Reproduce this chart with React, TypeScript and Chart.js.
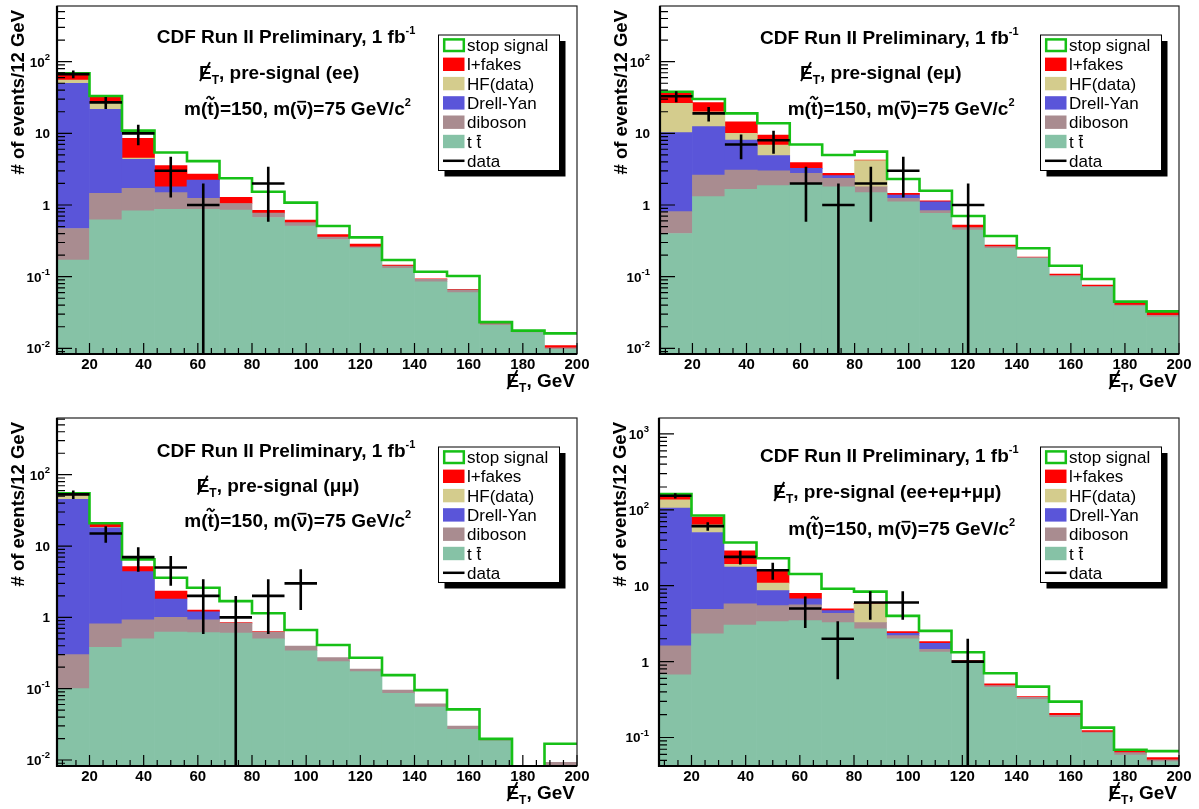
import React, { useEffect, useRef } from 'react';
import { Chart, registerables } from 'chart.js';

Chart.register(...registerables);

const FONT = '"Liberation Sans", Arial, Helvetica, sans-serif';

// Missing-ET histogram bins (GeV): 16 bins of 12 GeV from 8 to 200
const binEdges = [8, 20, 32, 44, 56, 68, 80, 92, 104, 116, 128, 140, 152, 164, 176, 188, 200];
const xTickLabels = [20, 40, 60, 80, 100, 120, 140, 160, 180, 200];
const legendLabels = ['stop signal', 'l+fakes', 'HF(data)', 'Drell-Yan', 'diboson', 't t', 'data'];

// ---------- ee ----------
const eeTtbar = [0.17, 0.62, 0.83, 0.87, 0.87, 0.85, 0.67, 0.51, 0.33, 0.25, 0.131, 0.085, 0.06, 0.021, 0.0166, 0.0097];
const eeDiboson = [0.3, 0.84, 0.88, 0.62, 0.37, 0.2, 0.1, 0.058, 0.028, 0.011, 0.01, 0.007, 0.0054, 0.0011, 0.0006, 0.0005];
const eeDrellYan = [49.4, 20.1, 2.63, 0.31, 0.99, 0, 0, 0, 0, 0, 0, 0, 0, 0, 0, 0];
const eeHF = [5.6, 4.6, 0.16, 0, 0, 0, 0, 0, 0, 0, 0, 0, 0, 0, 0, 0];
const eeFakes = [11.1, 5.6, 4.0, 1.74, 0.47, 0.23, 0.07, 0.05, 0.03, 0.023, 0.004, 0.001, 0.001, 0.0006, 0.0002, 0.0007];
const eeStopSignal = [68.8, 33.2, 10.9, 5.4, 4.1, 2.36, 1.53, 1.08, 0.51, 0.354, 0.171, 0.117, 0.102, 0.0232, 0.0177, 0.0162];
const eeData = [67, 27, 10, 3, 1, 0, 2, 0, 0, 0, 0, 0, 0, 0, 0, 0];

// ---------- e mu ----------
const emuTtbar = [0.4, 1.31, 1.65, 1.86, 2.0, 1.8, 1.49, 1.11, 0.765, 0.448, 0.249, 0.18, 0.1, 0.071, 0.039, 0.0276];
const emuDiboson = [0.41, 1.31, 1.43, 1.15, 0.77, 0.56, 0.31, 0.13, 0.069, 0.035, 0.013, 0.005, 0.004, 0.0025, 0.001, 0.0014];
const emuDrellYan = [9.4, 9.8, 5.0, 1.87, 0.48, 0.21, 0, 0.14, 0.276, 0, 0, 0, 0, 0, 0, 0];
const emuHF = [16.0, 7.6, 1.92, 1.99, 0, 0, 2.36, 0, 0, 0, 0, 0, 0, 0, 0, 0];
const emuFakes = [10.8, 6.8, 4.5, 2.61, 0.65, 0.2, 0.08, 0.07, 0.03, 0.043, 0.015, 0.003, 0.005, 0.0029, 0.0034, 0.0035];
const emuStopSignal = [38.1, 30.2, 19.0, 13.8, 7.0, 4.98, 5.55, 2.31, 1.58, 0.702, 0.37, 0.249, 0.142, 0.093, 0.0448, 0.0328];
const emuData = [33, 19, 7, 8, 2, 1, 2, 3, 0, 1, 0, 0, 0, 0, 0, 0];

// ---------- mu mu ----------
const mumuTtbar = [0.1, 0.38, 0.5, 0.62, 0.61, 0.6, 0.5, 0.34, 0.239, 0.173, 0.086, 0.055, 0.027, 0.0185, 0, 0.0075];
const mumuDiboson = [0.2, 0.43, 0.42, 0.38, 0.31, 0.23, 0.12, 0.056, 0.033, 0.015, 0.0094, 0.0061, 0.0029, 0.0009, 0, 0.0018];
const mumuDrellYan = [45.0, 17.2, 3.46, 0.81, 0.28, 0, 0, 0, 0, 0, 0, 0, 0, 0, 0, 0];
const mumuHF = [5.7, 0.3, 0, 0, 0, 0, 0, 0, 0, 0, 0, 0, 0, 0, 0, 0];
const mumuFakes = [2.8, 2.1, 0.76, 0.53, 0.07, 0.016, 0.014, 0, 0, 0, 0, 0, 0, 0, 0, 0];
const mumuStopSignal = [55, 20.9, 6.5, 3.6, 2.6, 1.69, 1.14, 0.664, 0.409, 0.272, 0.155, 0.0953, 0.0513, 0.0198, 0, 0.0169];
const mumuData = [53, 15, 7, 5, 2, 1, 2, 3, 0, 0, 0, 0, 0, 0, 0, 0];

// ---------- ee + e mu + mu mu ----------
const allTtbar = [0.67, 2.32, 3.04, 3.37, 3.47, 3.27, 2.7, 1.99, 1.33, 0.95, 0.459, 0.318, 0.185, 0.114, 0.0588, 0.048];
const allDiboson = [0.94, 2.58, 2.72, 2.1, 2.11, 1.07, 0.57, 0.21, 0.12, 0.03, 0.024, 0.021, 0.011, 0.004, 0.0044, 0.0026];
const allDrellYan = [103.9, 45.3, 11.8, 3.16, 1.12, 0.36, 0, 0.16, 0.29, 0, 0, 0, 0, 0, 0, 0];
const allHF = [30.1, 13.3, 1.6, 2.17, 0, 0, 2.49, 0, 0, 0, 0, 0, 0, 0, 0, 0];
const allFakes = [18.9, 16.7, 9.6, 5.0, 1.26, 0.25, 0.12, 0.13, 0.09, 0.05, 0.025, 0.006, 0.012, 0.005, 0.0052, 0.0038];
const allStopSignal = [161, 84.2, 37.1, 23.0, 14.3, 9.1, 8.37, 4.0, 2.54, 1.33, 0.702, 0.468, 0.297, 0.135, 0.069, 0.0662];
const allData = [153, 61, 24, 16, 5, 2, 6, 6, 0, 1, 0, 0, 0, 0, 0, 0];

const COLORS = {
  tt: '#86c2a6',
  dib: '#a98c90',
  dy: '#5a55d9',
  hf: '#d4cc8d',
  fk: '#ff0000',
  sig: '#16c016',
  data: '#000000',
};

const PANELS: any[] = [
  {
    id: 'ee', channel: 'ee',
    pad: { x: 0, y: 0, w: 600, h: 405 },
    frame: { l: 57, t: 6, r: 577, b: 354 },
    yMin: 0.00834, yMax: 598, labelGap: 7,
    text: [[156.7, 42.8], [199, 78.5], [184, 115]],
    ttbar: eeTtbar, diboson: eeDiboson, drellYan: eeDrellYan, hf: eeHF, fakes: eeFakes, signal: eeStopSignal, data: eeData,
  },
  {
    id: 'emu', channel: 'e\u03bc',
    pad: { x: 600, y: 0, w: 599, h: 405 },
    frame: { l: 660, t: 6, r: 1179, b: 354 },
    yMin: 0.00834, yMax: 598, labelGap: 10,
    text: [[760, 43.5], [800, 78.5], [787.7, 115]],
    ttbar: emuTtbar, diboson: emuDiboson, drellYan: emuDrellYan, hf: emuHF, fakes: emuFakes, signal: emuStopSignal, data: emuData,
  },
  {
    id: 'mumu', channel: '\u03bc\u03bc',
    pad: { x: 0, y: 405, w: 600, h: 404 },
    frame: { l: 57, t: 418, r: 577, b: 766 },
    yMin: 0.00824, yMax: 624, labelGap: 7,
    text: [[156.7, 456.5], [196.7, 492], [184.3, 527]],
    ttbar: mumuTtbar, diboson: mumuDiboson, drellYan: mumuDrellYan, hf: mumuHF, fakes: mumuFakes, signal: mumuStopSignal, data: mumuData,
  },
  {
    id: 'all', channel: 'ee+e\u03bc+\u03bc\u03bc',
    pad: { x: 600, y: 405, w: 599, h: 404 },
    frame: { l: 659, t: 418, r: 1179, b: 766 },
    yMin: 0.0421, yMax: 1622, labelGap: 10,
    text: [[760, 461.5], [773.3, 498.3], [788.3, 535]],
    ttbar: allTtbar, diboson: allDiboson, drellYan: allDrellYan, hf: allHF, fakes: allFakes, signal: allStopSignal, data: allData,
  },
];

const TINY = 1e-6;

function buildDatasets(c: any) {
  const centers = binEdges.slice(0, -1).map((e, i) => (e + binEdges[i + 1]) / 2);
  const layers = [
    { label: 't t', vals: c.ttbar, color: COLORS.tt },
    { label: 'diboson', vals: c.diboson, color: COLORS.dib },
    { label: 'Drell-Yan', vals: c.drellYan, color: COLORS.dy },
    { label: 'HF(data)', vals: c.hf, color: COLORS.hf },
    { label: 'l+fakes', vals: c.fakes, color: COLORS.fk },
  ];
  const running = centers.map(() => 0);
  const ds: any[] = [];
  layers.forEach((L, li) => {
    const pts: any[] = [];
    L.vals.forEach((v: number, i: number) => {
      const lo = running[i];
      const hi = lo + v;
      running[i] = hi;
      if (v > 0) pts.push({ x: centers[i], y: [Math.max(lo, TINY), hi] });
    });
    ds.push({
      type: 'bar', label: L.label, data: pts, backgroundColor: L.color, borderWidth: 0,
      grouped: false, barPercentage: 1, categoryPercentage: 1, clip: 0, order: 10 + li,
    });
  });
  const sig = c.signal.map((v: number, i: number) => ({ x: binEdges[i], y: Math.max(v, TINY) }));
  sig.push({ x: binEdges[binEdges.length - 1], y: Math.max(c.signal[c.signal.length - 1], TINY) });
  ds.push({
    type: 'line', label: 'stop signal', data: sig, borderColor: COLORS.sig, borderWidth: 2.6,
    pointRadius: 0, stepped: true, fill: false, clip: 0, order: 2,
  });
  const pts: any[] = [];
  c.data.forEach((n: number, i: number) => {
    if (n <= 0) return;
    const e = Math.sqrt(n);
    pts.push(
      { x: binEdges[i], y: n }, { x: binEdges[i + 1], y: n }, { x: centers[i], y: null },
      { x: centers[i], y: Math.max(n - e, TINY) }, { x: centers[i], y: n + e }, { x: centers[i], y: null },
    );
  });
  ds.push({
    type: 'line', label: 'data', data: pts, borderColor: COLORS.data, borderWidth: 2.6,
    pointRadius: 0, spanGaps: false, fill: false, clip: 0, order: 1,
  });
  return ds;
}

type Part = { t: string; size: number; bold?: boolean; dy?: number; deco?: string };

function drawRich(ctx: CanvasRenderingContext2D, x: number, y: number, parts: Part[], dry = false) {
  let cx = x;
  for (const p of parts) {
    ctx.font = `${p.bold ? 'bold ' : ''}${p.size}px ${FONT}`;
    const w = ctx.measureText(p.t).width;
    const by = y + (p.dy || 0);
    if (!dry) {
      ctx.fillText(p.t, cx, by);
      if (p.deco === 'slash') {
        ctx.beginPath();
        ctx.lineWidth = p.size * 0.1;
        ctx.moveTo(cx + w * 0.08, by + p.size * 0.14);
        ctx.lineTo(cx + w * 0.86, by - p.size * 0.86);
        ctx.stroke();
      } else if (p.deco === 'bar') {
        ctx.beginPath();
        ctx.lineWidth = p.size * 0.09;
        const yy = by - p.size * 0.7;
        ctx.moveTo(cx + w * 0.08, yy);
        ctx.lineTo(cx + w * 0.92, yy);
        ctx.stroke();
      } else if (p.deco === 'tilde') {
        ctx.beginPath();
        ctx.lineWidth = p.size * 0.09;
        const yy = by - p.size * 0.9;
        const x0 = cx - w * 0.1, x1 = cx + w * 1.1;
        const span = x1 - x0;
        ctx.moveTo(x0, yy + 1);
        ctx.bezierCurveTo(x0 + span * 0.25, yy - 3, x0 + span * 0.45, yy - 1, x0 + span * 0.5, yy);
        ctx.bezierCurveTo(x0 + span * 0.55, yy + 1, x0 + span * 0.75, yy + 3, x1, yy - 1);
        ctx.stroke();
      }
    }
    cx += w;
  }
  return cx - x;
}

function makeOverlay(c: any) {
  return {
    id: 'rootOverlay_' + c.id,
    afterDraw(chart: any) {
      const ctx: CanvasRenderingContext2D = chart.ctx;
      const xs = chart.scales.x;
      const ys = chart.scales.y;
      const ox = c.pad.x;
      const oy = c.pad.y;
      const X = (v: number) => xs.getPixelForValue(v) + ox;
      const Y = (v: number) => ys.getPixelForValue(v) + oy;
      const A = chart.chartArea;
      const L = A.left + ox, R = A.right + ox, T = A.top + oy, B = A.bottom + oy;
      ctx.save();
      ctx.translate(-ox, -oy);
      ctx.fillStyle = '#000';
      ctx.strokeStyle = '#000';
      ctx.textAlign = 'left';
      ctx.textBaseline = 'alphabetic';

      // tick marks (inside the frame)
      ctx.lineWidth = 1.2;
      ctx.beginPath();
      for (let v = 10; v <= 200; v += 5) {
        const major = v % 20 === 0;
        const px = X(v);
        ctx.moveTo(px, B);
        ctx.lineTo(px, B - (major ? 11 : 6));
      }
      const kLo = Math.floor(Math.log10(c.yMin));
      const kHi = Math.ceil(Math.log10(c.yMax));
      for (let k = kLo; k <= kHi; k++) {
        for (let m = 1; m <= 9; m++) {
          const v = m * Math.pow(10, k);
          if (v < c.yMin || v > c.yMax) continue;
          const py = Y(v);
          ctx.moveTo(L, py);
          ctx.lineTo(L + (m === 1 ? 15 : 8), py);
        }
      }
      ctx.stroke();

      // frame
      ctx.lineWidth = 1.2;
      ctx.strokeStyle = '#222';
      ctx.strokeRect(L, T, R - L, B - T);
      ctx.strokeStyle = '#000';
      ctx.lineWidth = 2.2;
      ctx.beginPath();
      ctx.moveTo(L, T);
      ctx.lineTo(L, B);
      ctx.lineTo(R, B);
      ctx.stroke();

      // x tick labels
      ctx.font = `bold 15px ${FONT}`;
      ctx.textAlign = 'center';
      for (const v of xTickLabels) ctx.fillText(String(v), X(v), B + 15);
      ctx.textAlign = 'left';

      // y tick labels
      for (let k = Math.ceil(Math.log10(c.yMin) - 1e-9); k <= Math.floor(Math.log10(c.yMax) + 1e-9); k++) {
        const py = Y(Math.pow(10, k));
        let parts: Part[];
        if (k === 0) parts = [{ t: '1', size: 13.5, bold: true }];
        else if (k === 1) parts = [{ t: '10', size: 13.5, bold: true }];
        else parts = [{ t: '10', size: 13.5, bold: true }, { t: String(k), size: 9.5, bold: true, dy: -6.5 }];
        const w = drawRich(ctx, 0, 0, parts, true);
        drawRich(ctx, L - c.labelGap - w, py + 4.9, parts);
      }

      // axis titles
      const xt: Part[] = [
        { t: 'E', size: 19, bold: true, deco: 'slash' },
        { t: 'T', size: 12, bold: true, dy: 5 },
        { t: ', GeV', size: 19, bold: true },
      ];
      const xtw = drawRich(ctx, 0, 0, xt, true);
      drawRich(ctx, R - 2 - xtw, B + 32.5, xt);

      ctx.save();
      ctx.translate(L - 33, T + 4);
      ctx.rotate(-Math.PI / 2);
      ctx.textAlign = 'right';
      ctx.font = `bold 18.5px ${FONT}`;
      ctx.fillText('# of events/12 GeV', 0, 0);
      ctx.restore();

      // annotation text
      ctx.textAlign = 'left';
      const [p1, p2, p3] = c.text;
      drawRich(ctx, p1[0], p1[1], [
        { t: 'CDF Run II Preliminary, 1 fb', size: 19, bold: true },
        { t: '-1', size: 11, bold: true, dy: -9 },
      ]);
      drawRich(ctx, p2[0], p2[1], [
        { t: 'E', size: 19, bold: true, deco: 'slash' },
        { t: 'T', size: 12, bold: true, dy: 5 },
        { t: ', pre-signal (' + c.channel + ')', size: 19, bold: true },
      ]);
      drawRich(ctx, p3[0], p3[1], [
        { t: 'm(', size: 19, bold: true },
        { t: 't', size: 19, bold: true, deco: 'tilde' },
        { t: ')=150, m(', size: 19, bold: true },
        { t: '\u03bd', size: 19, bold: true, deco: 'bar' },
        { t: ')=75 GeV/c', size: 19, bold: true },
        { t: '2', size: 11, bold: true, dy: -9 },
      ]);

      // legend
      const lw = 121, lh = 135.5;
      const lx = R - 18 - lw, ly = T + 28.5;
      ctx.fillStyle = '#000';
      ctx.fillRect(lx + 6.5, ly + 6.5, lw, lh);
      ctx.fillStyle = '#fff';
      ctx.fillRect(lx, ly, lw, lh);
      ctx.lineWidth = 1;
      ctx.strokeStyle = '#000';
      ctx.strokeRect(lx + 0.5, ly + 0.5, lw, lh);
      const swatch = [null, COLORS.fk, COLORS.hf, COLORS.dy, COLORS.dib, COLORS.tt, null];
      legendLabels.forEach((lab, i) => {
        const ry = ly + 10.5 + i * 19.3;
        if (i === 0) {
          ctx.strokeStyle = COLORS.sig;
          ctx.lineWidth = 2.5;
          ctx.strokeRect(lx + 6.2, ry - 5.6, 19.6, 11.6);
        } else if (i === 6) {
          ctx.strokeStyle = '#000';
          ctx.lineWidth = 2.5;
          ctx.beginPath();
          ctx.moveTo(lx + 5, ry);
          ctx.lineTo(lx + 26.5, ry);
          ctx.stroke();
        } else {
          ctx.fillStyle = swatch[i] as string;
          ctx.fillRect(lx + 5, ry - 6.7, 21.5, 13.4);
        }
        ctx.fillStyle = '#000';
        ctx.strokeStyle = '#000';
        if (i === 5) {
          drawRich(ctx, lx + 29, ry + 6.1, [
            { t: 't ', size: 17 },
            { t: 't', size: 17, deco: 'bar' },
          ]);
        } else {
          drawRich(ctx, lx + 29, ry + 6.1, [{ t: lab, size: 17 }]);
        }
      });

      ctx.restore();
    },
  };
}

function Panel({ cfg }: { cfg: any }) {
  const ref = useRef<HTMLCanvasElement>(null);
  useEffect(() => {
    const canvas = ref.current;
    if (!canvas) return;
    const f = cfg.frame;
    const p = cfg.pad;
    const chart = new Chart(canvas, {
      type: 'bar',
      data: { datasets: buildDatasets(cfg) },
      options: {
        animation: false,
        responsive: false,
        maintainAspectRatio: false,
        devicePixelRatio: 1,
        events: [],
        layout: {
          padding: { left: f.l - p.x, top: f.t - p.y, right: p.x + p.w - f.r, bottom: p.y + p.h - f.b },
        },
        plugins: { legend: { display: false }, tooltip: { enabled: false }, title: { display: false } },
        scales: {
          x: {
            type: 'linear', min: binEdges[0], max: binEdges[binEdges.length - 1], offset: false, display: false,
            afterBuildTicks: (scale: any) => { scale.ticks = binEdges.map((v) => ({ value: v })); },
          },
          y: { type: 'logarithmic', min: cfg.yMin, max: cfg.yMax, display: false },
        },
      } as any,
      plugins: [makeOverlay(cfg)],
    });
    return () => chart.destroy();
  }, [cfg]);
  return (
    <canvas
      ref={ref}
      width={cfg.pad.w}
      height={cfg.pad.h}
      style={{ position: 'absolute', left: cfg.pad.x, top: cfg.pad.y, width: cfg.pad.w, height: cfg.pad.h, display: 'block' }}
    />
  );
}

export default function App() {
  return (
    <div style={{ position: 'absolute', left: 0, top: 0, width: 1199, height: 809, background: '#fff', overflow: 'hidden' }}>
      {PANELS.map((p) => <Panel key={p.id} cfg={p} />)}
    </div>
  );
}
